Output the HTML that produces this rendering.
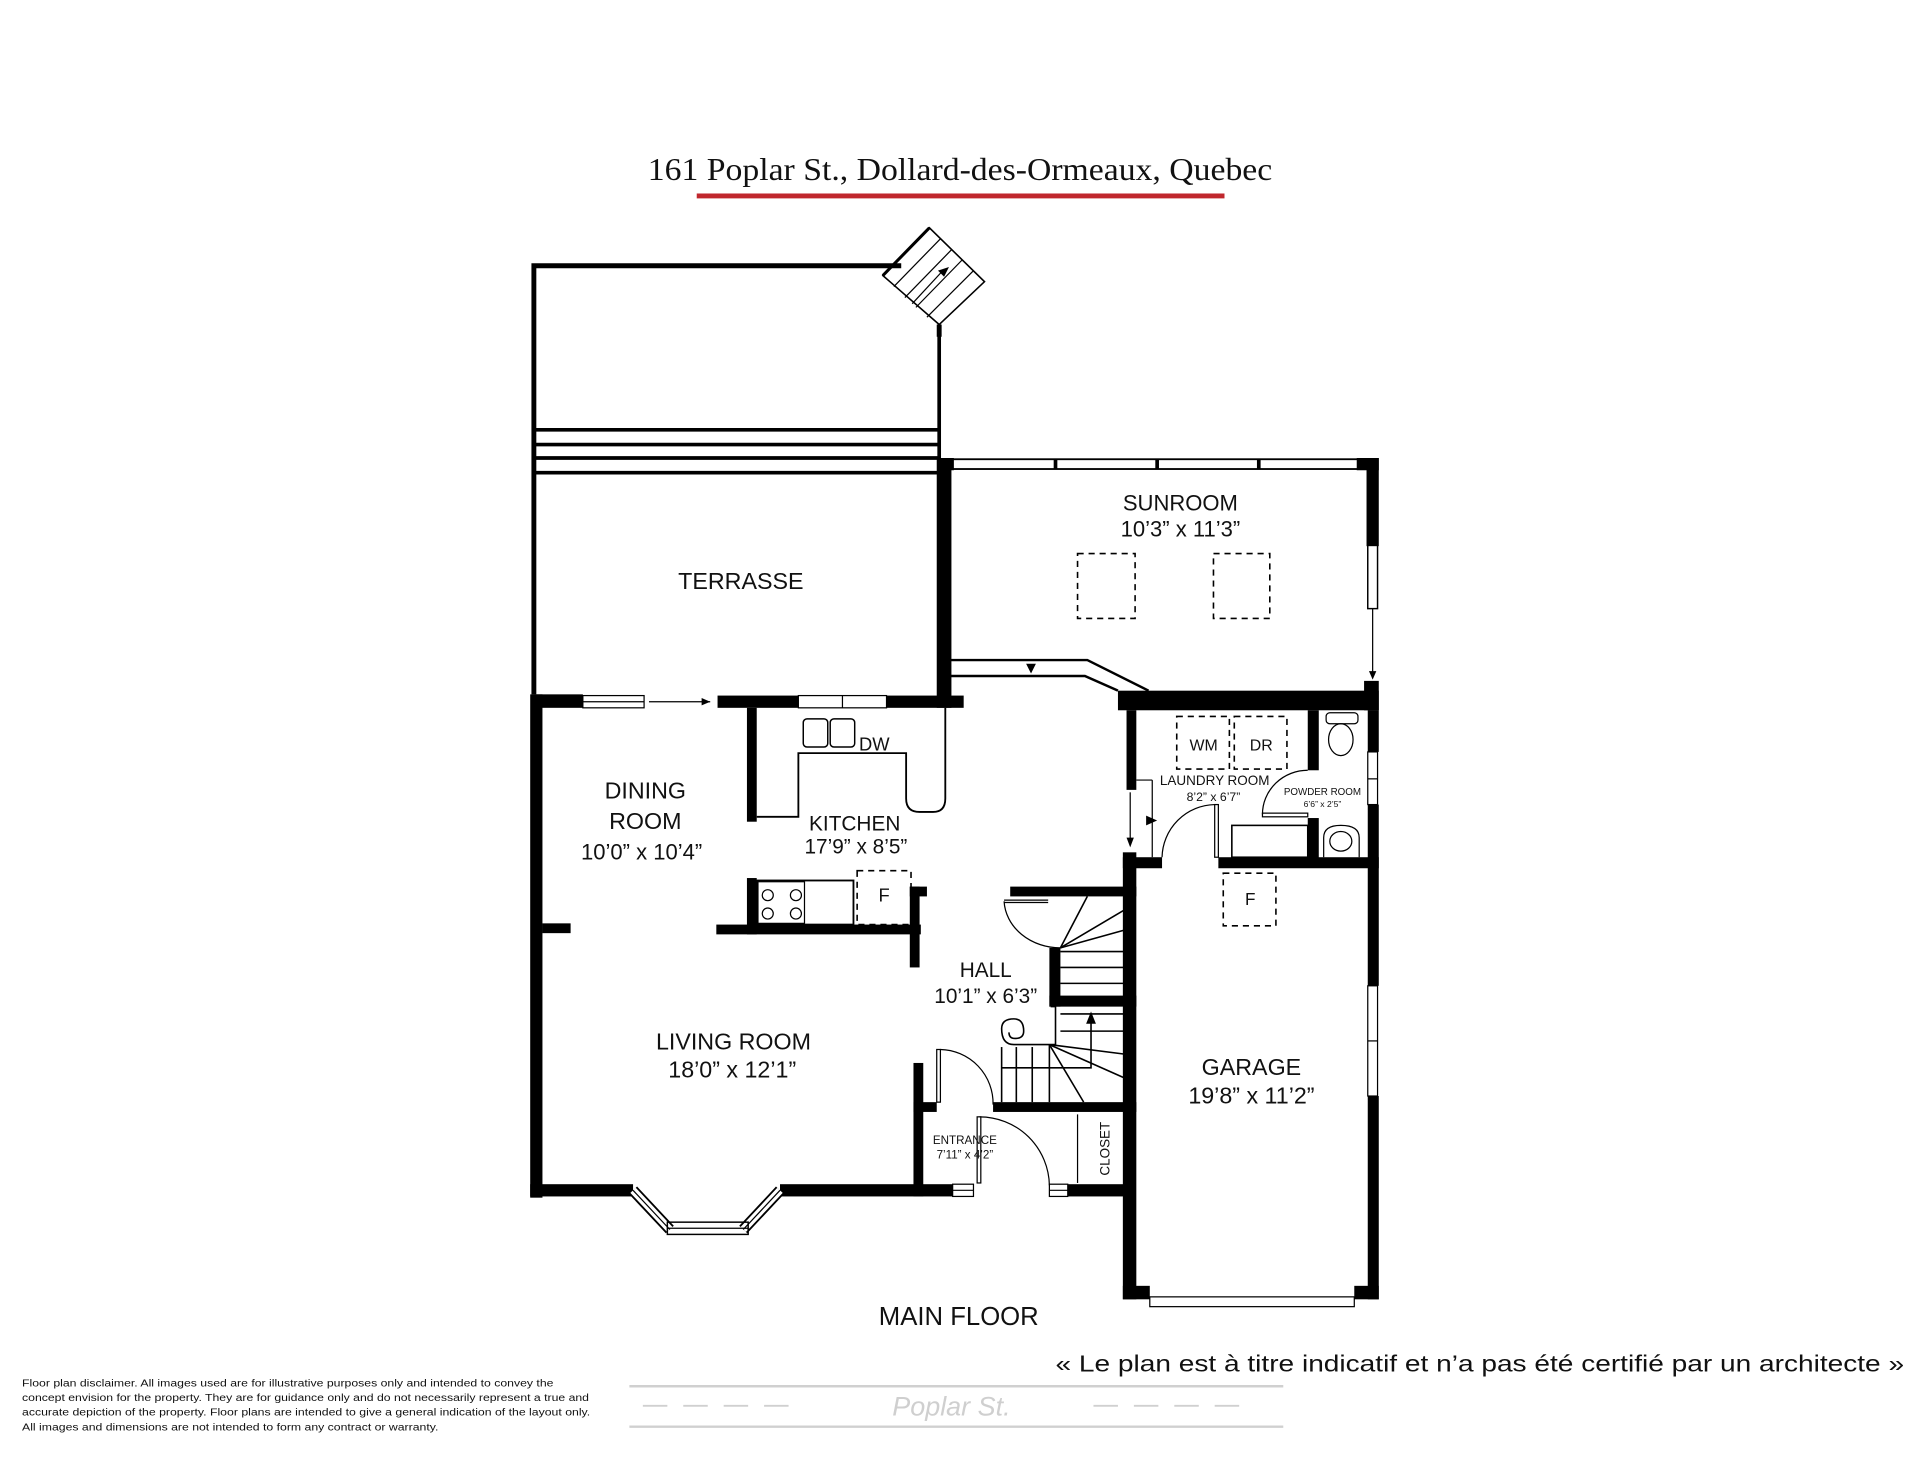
<!DOCTYPE html>
<html><head><meta charset="utf-8"><style>
html,body{margin:0;padding:0;background:#fff;}
svg{display:block;}
text{font-family:"Liberation Sans",sans-serif;}
</style></head><body>
<svg width="1920" height="1483" viewBox="0 0 1568 1211" preserveAspectRatio="none" xmlns="http://www.w3.org/2000/svg">
<rect width="1568" height="1211" fill="#fff"/>
<!-- title -->
<text x="529" y="147" textLength="510" lengthAdjust="spacingAndGlyphs" style="font-family:'Liberation Serif',serif" font-size="26" fill="#111">161 Poplar St., Dollard-des-Ormeaux, Quebec</text>
<rect x="569" y="158" width="431" height="4" fill="#c0272d"/>

<g stroke="#000" fill="none">
<polyline points="736,217 436,217 436,567" stroke-width="4"/>
<line x1="767" y1="265" x2="767" y2="378" stroke-width="3"/>
<line x1="436" y1="351" x2="767" y2="351" stroke-width="3"/>
<line x1="436" y1="363" x2="767" y2="363" stroke-width="3"/>
<line x1="436" y1="374" x2="767" y2="374" stroke-width="3"/>
<line x1="436" y1="386" x2="767" y2="386" stroke-width="3"/>
<polygon points="721,225 759,186 804,230 767,265" stroke-width="1.3"/>
<line x1="721" y1="225" x2="759" y2="186" stroke-width="2.5"/>
<line x1="730" y1="234" x2="768" y2="195" stroke-width="1"/>
<line x1="739" y1="243" x2="777" y2="204" stroke-width="1"/>
<line x1="748" y1="251" x2="786" y2="212" stroke-width="1"/>
<line x1="757" y1="259" x2="795" y2="221" stroke-width="1"/>
<line x1="745" y1="248" x2="770" y2="221" stroke-width="1"/>
<line x1="767" y1="265" x2="767" y2="275" stroke-width="4"/>
<rect x="777" y="375" width="333" height="8" stroke-width="1.5"/>
<line x1="862" y1="375" x2="862" y2="383" stroke-width="3"/>
<line x1="945" y1="375" x2="945" y2="383" stroke-width="3"/>
<line x1="1028" y1="375" x2="1028" y2="383" stroke-width="3"/>
<rect x="1117" y="445" width="8" height="52" stroke-width="1.2"/>
<line x1="1121" y1="497" x2="1121" y2="553" stroke-width="1"/>
<polyline points="776,539 888,539 938,564" stroke-width="2"/>
<polyline points="776,552 886,552 913,564" stroke-width="2"/>
<g stroke-dasharray="5,4" stroke-width="1.3">
<rect x="880" y="452" width="47" height="53"/>
<rect x="991" y="452" width="46" height="53"/>
<rect x="961" y="585" width="43" height="43"/>
<rect x="1008" y="585" width="43" height="43"/>
<rect x="700" y="711" width="44" height="44"/>
<rect x="999" y="713" width="43" height="43"/>
</g>
</g>
<g fill="#000">
<rect x="765" y="374" width="12" height="204"/>
<rect x="1116" y="374" width="10" height="72"/>
<rect x="1108" y="374" width="18" height="10"/>
<rect x="767" y="374" width="12" height="10"/>
<rect x="433" y="567" width="10" height="411"/>
<rect x="436" y="567" width="40" height="11"/>
<rect x="586" y="568" width="66" height="10"/>
<rect x="724" y="568" width="63" height="10"/>
<rect x="913" y="564" width="213" height="16"/>
<rect x="1114" y="556" width="12" height="24"/>
<rect x="610" y="578" width="8" height="93"/>
<rect x="610" y="717" width="8" height="46"/>
<rect x="585" y="755" width="167" height="8"/>
<rect x="743" y="724" width="8" height="66"/>
<rect x="743" y="724" width="14" height="8"/>
<rect x="443" y="754" width="23" height="8"/>
<rect x="433" y="967" width="84" height="10"/>
<rect x="637" y="967" width="141" height="10"/>
<rect x="746" y="868" width="8" height="109"/>
<rect x="746" y="900" width="19" height="8"/>
<rect x="811" y="900" width="117" height="8"/>
<rect x="872" y="967" width="48" height="10"/>
<rect x="825" y="724" width="103" height="8"/>
<rect x="857" y="774" width="9" height="48"/>
<rect x="857" y="813" width="71" height="9"/>
<rect x="920" y="580" width="8" height="65"/>
<rect x="917" y="696" width="11" height="365"/>
<rect x="917" y="700" width="32" height="9"/>
<rect x="995" y="700" width="131" height="9"/>
<rect x="1068" y="580" width="9" height="49"/>
<rect x="1068" y="668" width="9" height="35"/>
<rect x="1117" y="580" width="9" height="34"/>
<rect x="1117" y="657" width="9" height="148"/>
<rect x="1117" y="895" width="9" height="166"/>
<rect x="917" y="1050" width="22" height="11"/>
<rect x="1106" y="1050" width="20" height="11"/>
</g>
<g stroke="#000" fill="none">
<rect x="476" y="568" width="50" height="10" stroke-width="1"/>
<line x1="476" y1="573" x2="526" y2="573" stroke-width="1"/>
<rect x="652" y="568" width="72" height="10" stroke-width="1"/>
<line x1="688" y1="568" x2="688" y2="578" stroke-width="1"/>
<line x1="530" y1="573" x2="580" y2="573" stroke-width="1"/>
<path d="M618,667 L652,667 L652,615 L740,615 L740,652 Q740,663 751,663 L762,663 Q772,663 772,652 L772,578" stroke-width="1.5"/>
<rect x="656" y="587" width="20" height="23" rx="3" stroke-width="1.2"/>
<rect x="678" y="587" width="20" height="23" rx="3" stroke-width="1.2"/>
<rect x="618" y="719" width="79" height="36" stroke-width="1.5"/>
<rect x="619" y="720" width="38" height="34" stroke-width="1"/>
<circle cx="627" cy="731" r="4.5" stroke-width="1"/><circle cx="650" cy="731" r="4.5" stroke-width="1"/>
<circle cx="627" cy="746" r="4.5" stroke-width="1"/><circle cx="650" cy="746" r="4.5" stroke-width="1"/>
<line x1="517" y1="972" x2="547" y2="1004" stroke-width="9"/>
<line x1="517" y1="972" x2="547" y2="1004" stroke="#fff" stroke-width="6"/>
<line x1="517" y1="972" x2="547" y2="1004" stroke-width="1"/>
<line x1="637" y1="972" x2="607" y2="1004" stroke-width="9"/>
<line x1="637" y1="972" x2="607" y2="1004" stroke="#fff" stroke-width="6"/>
<line x1="637" y1="972" x2="607" y2="1004" stroke-width="1"/>
<rect x="545" y="998" width="66" height="10" stroke-width="1.2"/>
<line x1="545" y1="1003" x2="611" y2="1003" stroke-width="1"/>
<rect x="778" y="967" width="17" height="10" stroke-width="1"/>
<line x1="778" y1="972" x2="795" y2="972" stroke-width="1"/>
<rect x="857" y="967" width="15" height="10" stroke-width="1"/>
<line x1="857" y1="972" x2="872" y2="972" stroke-width="1"/>
<rect x="765" y="857" width="3" height="43" stroke-width="1"/>
<path d="M768,857 A44,44 0 0 1 811,902" stroke-width="1"/>
<rect x="798" y="912" width="3" height="54" stroke-width="1"/>
<path d="M800,912 A57,57 0 0 1 857,968" stroke-width="1"/>
<line x1="880" y1="910" x2="880" y2="966" stroke-width="1"/>
<line x1="866" y1="777" x2="920" y2="777" stroke-width="1.3"/>
<line x1="866" y1="790" x2="920" y2="790" stroke-width="1.3"/>
<line x1="866" y1="803" x2="920" y2="803" stroke-width="1.3"/>
<line x1="866" y1="774" x2="888" y2="732" stroke-width="1.3"/>
<line x1="866" y1="774" x2="920" y2="742" stroke-width="1.3"/>
<line x1="866" y1="774" x2="920" y2="759" stroke-width="1.3"/>
<line x1="820" y1="735" x2="856" y2="735" stroke-width="1"/>
<line x1="820" y1="737" x2="856" y2="737" stroke-width="1"/>
<path d="M820,736 A46,40 0 0 0 866,774" stroke-width="1"/>
<line x1="866" y1="828" x2="920" y2="828" stroke-width="1.3"/>
<line x1="866" y1="842" x2="920" y2="842" stroke-width="1.3"/>
<line x1="857" y1="853" x2="920" y2="861" stroke-width="1.3"/>
<line x1="857" y1="853" x2="920" y2="881" stroke-width="1.3"/>
<line x1="857" y1="853" x2="885" y2="900" stroke-width="1.3"/>
<line x1="818" y1="855" x2="818" y2="900" stroke-width="1.3"/>
<line x1="830" y1="855" x2="830" y2="900" stroke-width="1.3"/>
<line x1="843" y1="855" x2="843" y2="900" stroke-width="1.3"/>
<line x1="857" y1="853" x2="857" y2="900" stroke-width="1.3"/>
<polyline points="818,872 891,872 891,832" stroke-width="1.3"/>
<path d="M858,822 L862,822 L862,853 L828,853 Q818,853 818,840 Q818,832 828,832 Q836,832 836,842 Q836,848 829,848 Q824,848 824,843" stroke-width="1.3" fill="#fff"/>
<line x1="941" y1="637" x2="941" y2="700" stroke-width="1"/>
<line x1="928" y1="637" x2="941" y2="637" stroke-width="1"/>
<line x1="923" y1="647" x2="923" y2="690" stroke-width="1"/>
<rect x="992" y="657" width="3" height="43" stroke-width="1"/>
<path d="M992,657 A44,44 0 0 0 949,700" stroke-width="1"/>
<rect x="1031" y="664" width="37" height="3" stroke-width="1"/>
<path d="M1068,629 A37,36 0 0 0 1031,665" stroke-width="1"/>
<rect x="1006" y="674" width="62" height="26" stroke-width="1.3"/>
<rect x="1117" y="614" width="8" height="43" stroke-width="1"/>
<line x1="1117" y1="636" x2="1125" y2="636" stroke-width="1"/>
<rect x="1083" y="582" width="26" height="9" rx="3" stroke-width="1"/>
<ellipse cx="1095" cy="604" rx="10" ry="13" stroke-width="1"/>
<path d="M1081,700 L1081,684 Q1081,674 1095,674 Q1110,674 1110,684 L1110,700" stroke-width="1"/>
<ellipse cx="1095" cy="687" rx="9" ry="8" stroke-width="1"/>
<rect x="1117" y="805" width="8" height="90" stroke-width="1"/>
<line x1="1117" y1="850" x2="1125" y2="850" stroke-width="1"/>
<rect x="939" y="1059" width="167" height="8" stroke-width="1"/>
<line x1="514" y1="1132" x2="1048" y2="1132" stroke="#d0d0d0" stroke-width="2"/>
<line x1="514" y1="1165" x2="1048" y2="1165" stroke="#d0d0d0" stroke-width="2"/>
<line x1="525" y1="1148" x2="656" y2="1148" stroke="#d0d0d0" stroke-width="1.5" stroke-dasharray="20,13"/>
<line x1="893" y1="1148" x2="1025" y2="1148" stroke="#d0d0d0" stroke-width="1.5" stroke-dasharray="20,13"/>
</g>
<g fill="#000">
<polygon points="580,573 573,570 573,576"/>
<polygon points="842,550 838,542 846,542"/>
<polygon points="1121,555 1118,548 1124,548"/>
<polygon points="891,826 887,836 895,836"/>
<polygon points="923,692 920,684 926,684"/>
<polygon points="945,670 936,666 936,674"/>
<polygon points="775,218 766,221 771,226"/>
</g>
<g fill="#111" text-anchor="middle">
<text x="605" y="481" font-size="19">TERRASSE</text>
<text x="964" y="417" font-size="18">SUNROOM</text>
<text x="964" y="438" font-size="18">10’3” x 11’3”</text>
<text x="527" y="652" font-size="19">DINING</text>
<text x="527" y="677" font-size="19">ROOM</text>
<text x="524" y="702" font-size="18">10’0” x 10’4”</text>
<text x="698" y="678" font-size="17">KITCHEN</text>
<text x="699" y="697" font-size="17">17’9” x 8’5”</text>
<text x="714" y="613" font-size="15">DW</text>
<text x="722" y="736" font-size="15">F</text>
<text x="1021" y="739" font-size="14">F</text>
<text x="983" y="613" font-size="13">WM</text>
<text x="1030" y="613" font-size="13">DR</text>
<text x="992" y="641" font-size="11">LAUNDRY ROOM</text>
<text x="991" y="654" font-size="10">8’2” x 6’7”</text>
<text x="1080" y="649" font-size="8">POWDER ROOM</text>
<text x="1080" y="659" font-size="7">6’6” x 2’5”</text>
<text x="805" y="798" font-size="17">HALL</text>
<text x="805" y="819" font-size="17">10’1” x 6’3”</text>
<text x="599" y="857" font-size="19">LIVING ROOM</text>
<text x="598" y="880" font-size="19">18’0” x 12’1”</text>
<text x="788" y="934" font-size="9.5">ENTRANCE</text>
<text x="788" y="946" font-size="9.5">7’11” x 4’2”</text>
<text x="1022" y="878" font-size="19">GARAGE</text>
<text x="1022" y="901" font-size="19">19’8” x 11’2”</text>
<text x="783" y="1082" font-size="21">MAIN FLOOR</text>
<text x="777" y="1156" font-size="22" font-style="italic" fill="#cfcfcf">Poplar St.</text>
</g>
<text transform="translate(906,938) rotate(-90)" text-anchor="middle" font-size="11" fill="#111">CLOSET</text>
<text x="862" y="1120" textLength="693" lengthAdjust="spacingAndGlyphs" font-size="19" fill="#111">« Le plan est à titre indicatif et n’a pas été certifié par un architecte »</text>
<g font-size="8.6" fill="#111">
<text x="18" y="1132" textLength="434" lengthAdjust="spacingAndGlyphs">Floor plan disclaimer. All images used are for illustrative purposes only and intended to convey the</text>
<text x="18" y="1144" textLength="463" lengthAdjust="spacingAndGlyphs">concept envision for the property. They are for guidance only and do not necessarily represent a true and</text>
<text x="18" y="1156" textLength="464" lengthAdjust="spacingAndGlyphs">accurate depiction of the property. Floor plans are intended to give a general indication of the layout only.</text>
<text x="18" y="1168" textLength="340" lengthAdjust="spacingAndGlyphs">All images and dimensions are not intended to form any contract or warranty.</text>
</g>
</svg>
</body></html>
